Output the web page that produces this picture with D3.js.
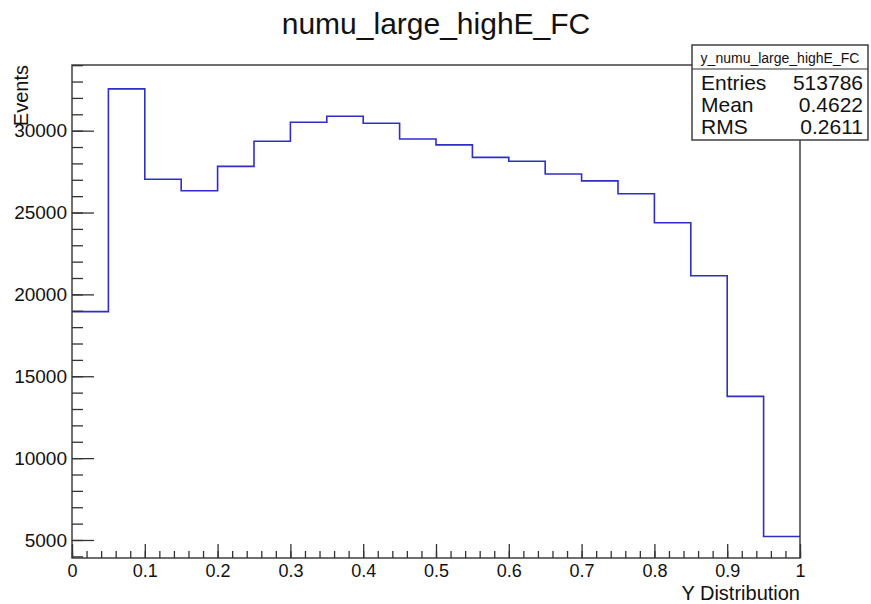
<!DOCTYPE html>
<html>
<head>
<meta charset="utf-8">
<script src="https://cdn.jsdelivr.net/npm/d3@7"></script>
<style>
  body { margin: 0; background: #fff; }
  svg text { font-family: "Liberation Sans", Arial, sans-serif; fill: #111; }
</style>
</head>
<body>
<script>
// histogram contents, 20 bins of width 0.05 on [0, 1]
var binEdges = [0, 0.05, 0.1, 0.15, 0.2, 0.25, 0.3, 0.35, 0.4, 0.45, 0.5,
                0.55, 0.6, 0.65, 0.7, 0.75, 0.8, 0.85, 0.9, 0.95, 1];
var counts = [18950, 32550, 27030, 26330, 27820, 29350, 30510, 30880, 30450, 29490,
              29130, 28370, 28130, 27350, 26930, 26150, 24380, 21140, 13770, 5210];
var xMajor = [0, 0.1, 0.2, 0.3, 0.4, 0.5, 0.6, 0.7, 0.8, 0.9, 1];
var yMajor = [5000, 10000, 15000, 20000, 25000, 30000];
var statLabels = ["Entries", "Mean", "RMS"];
var statValues = ["513786", "0.4622", "0.2611"];

var W = 871, H = 604;
var margin = {top: 65, right: 71, bottom: 46, left: 72},
    width = W - margin.left - margin.right,
    height = H - margin.top - margin.bottom;

var x = d3.scaleLinear().domain([0, 1]).range([0, width]);
var y = d3.scaleLinear().domain([3900, 34010]).range([height, 0]);

var svg = d3.select("body").append("svg")
    .attr("width", W)
    .attr("height", H);

// title
svg.append("text")
    .attr("x", 436)
    .attr("y", 34)
    .attr("text-anchor", "middle")
    .style("font-size", "30px")
    .text("numu_large_highE_FC");

var g = svg.append("g")
    .attr("transform", "translate(" + margin.left + "," + margin.top + ")");

// histogram outline
var pts = [];
counts.forEach(function(c, i) {
    pts.push([binEdges[i], c]);
    pts.push([binEdges[i + 1], c]);
});
g.append("path")
    .datum(pts)
    .attr("fill", "none")
    .attr("stroke", "#2f2fc6")
    .attr("stroke-width", 1.6)
    .attr("d", d3.line()
          .x(function(d) { return x(d[0]); })
          .y(function(d) { return y(d[1]); }));

// frame
g.append("rect")
    .attr("width", width)
    .attr("height", height)
    .attr("fill", "none")
    .attr("stroke", "#333")
    .attr("stroke-width", 1.4);

// y axis, ticks point into the frame
var yMinor = d3.range(4000, 34001, 1000);
g.append("g")
    .attr("class", "axis")
    .call(d3.axisLeft(y).tickValues(yMinor).tickSize(-11).tickFormat(""));
g.append("g")
    .attr("class", "axis")
    .call(d3.axisLeft(y).tickValues(yMajor).tickSize(-22).tickPadding(5).tickFormat(d3.format("d")));

// x axis
var xMinor = d3.range(0, 1.0001, 0.02);
g.append("g")
    .attr("class", "axis")
    .attr("transform", "translate(0," + height + ")")
    .call(d3.axisBottom(x).tickValues(xMinor).tickSize(-7).tickFormat(""));
g.append("g")
    .attr("class", "axis x-major")
    .attr("transform", "translate(0," + height + ")")
    .call(d3.axisBottom(x).tickValues(xMajor).tickSize(-14).tickPadding(6).tickFormat(d3.format("")));

g.selectAll(".axis .domain").remove();
g.selectAll(".axis line").attr("stroke", "#333").attr("stroke-width", 1.3);
g.selectAll(".axis text")
    .style("font-size", "19px")
    .style("font-family", "Liberation Sans, Arial, sans-serif")
    .attr("fill", "#111");
g.selectAll(".x-major text").style("font-size", "18px");

// axis titles
g.append("text")
    .attr("x", width)
    .attr("y", height + 42)
    .attr("text-anchor", "end")
    .style("font-size", "20px")
    .text("Y Distribution");

g.append("text")
    .attr("transform", "translate(" + (28 - margin.left) + ",0) rotate(-90)")
    .attr("text-anchor", "end")
    .style("font-size", "20px")
    .text("Events");

// stats box
var box = svg.append("g").attr("transform", "translate(692,45)");
box.append("rect")
    .attr("width", 176)
    .attr("height", 95)
    .attr("fill", "#fff")
    .attr("stroke", "#333")
    .attr("stroke-width", 1.4);
box.append("line")
    .attr("x1", 0).attr("x2", 176)
    .attr("y1", 24).attr("y2", 24)
    .attr("stroke", "#333")
    .attr("stroke-width", 1.2);
box.append("text")
    .attr("x", 88)
    .attr("y", 18)
    .attr("text-anchor", "middle")
    .style("font-size", "14px")
    .text("y_numu_large_highE_FC");
statLabels.forEach(function(s, i) {
    box.append("text")
        .attr("x", 9)
        .attr("y", 45 + i * 22)
        .style("font-size", "21px")
        .text(s);
    box.append("text")
        .attr("x", 171)
        .attr("y", 45 + i * 22)
        .attr("text-anchor", "end")
        .style("font-size", "21px")
        .text(statValues[i]);
});
</script>
</body>
</html>
